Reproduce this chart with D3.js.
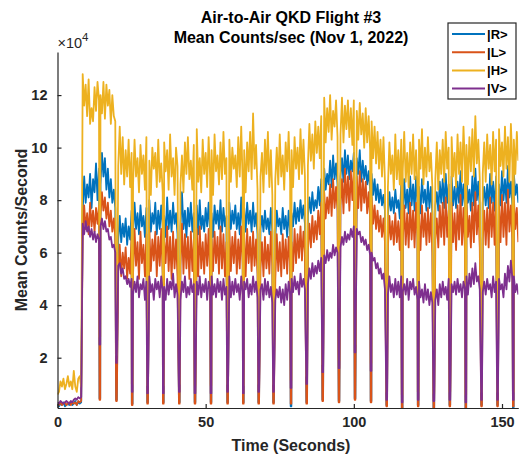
<!DOCTYPE html>
<html>
<head>
<meta charset="utf-8">
<script src="https://cdn.jsdelivr.net/npm/d3@7"></script>
<style>
  body { margin: 0; background: #fff; }
  text { font-family: "Liberation Sans", Arial, Helvetica, sans-serif; }
</style>
</head>
<body>
<div id="visualization"></div>
<script>
// Mean counts per second, in units of 10^4, one sample every 0.5 s from t = 0
var STEP = 0.5;
var countsH = [
  0.6, 0.7, 1.1, 0.9, 1.2, 0.8, 1.0, 1.3, 0.9, 1.1, 0.8, 1.5, 0.9, 0.7, 1.2, 1.3, 0.9,
  12.8, 11.6, 12.4, 11.2, 12.6, 10.9, 11.5, 11.0, 12.3, 11.4, 12.5, 11.8,
  12.0, 11.3, 12.5, 11.1, 12.4, 11.6, 12.2, 10.9, 12.0, 11.2, 11.0,
  10.2, 9.3, 10.8, 9.0, 10.4, 8.6, 9.9, 8.9, 10.3, 8.5,
  9.8, 8.6, 10.3, 8.9, 9.6, 8.3, 10.1, 9.0, 9.7, 8.4,
  10.4, 8.8, 9.5, 8.2, 10.0, 9.2, 9.8, 8.5, 10.3, 8.7,
  9.4, 8.3, 10.2, 9.1, 9.9, 8.4, 10.5, 8.9, 9.6, 8.2,
  10.0, 9.3, 10.6, 8.6, 9.7, 8.3, 10.2, 9.0, 10.4, 8.8,
  9.5, 8.4, 10.1, 9.2, 10.7, 8.7, 9.6, 8.3, 10.3, 9.0,
  9.8, 8.5, 10.4, 8.9, 9.9, 8.2, 10.5, 9.1, 9.7, 8.6,
  10.2, 8.8, 10.6, 9.0, 9.6, 8.4, 10.3, 8.7, 10.0, 9.2,
  9.7, 8.5, 10.4, 8.9, 10.8, 8.6, 9.9, 8.3, 10.2, 9.1,
  10.6, 8.8, 11.3, 9.2, 10.1, 8.4, 10.5, 8.9, 9.8, 8.3,
  10.3, 9.0, 10.6, 8.5, 9.9, 8.2, 10.4, 8.8, 10.0, 8.6,
  10.5, 8.9, 9.7, 8.4, 10.2, 9.1, 10.6, 8.7, 9.9, 8.5,
  10.4, 9.2, 10.0, 8.8, 10.7, 9.0, 10.3, 8.9, 10.6, 9.3,
  10.9, 9.5, 10.5, 9.2, 11.0, 9.8, 10.8, 9.6, 11.2, 10.0,
  11.9, 10.2, 11.5, 10.6, 12.0, 10.3, 11.4, 10.8, 11.8, 10.4,
  11.7, 10.5, 11.9, 10.2, 11.6, 10.7, 11.8, 10.4, 11.5, 10.1,
  11.8, 10.6, 11.4, 10.3, 11.7, 10.5, 11.3, 10.0, 11.5, 10.2,
  11.2, 9.9, 11.0, 9.6, 10.8, 9.4, 10.6, 9.2, 10.3, 8.9,
  10.4, 8.7, 9.9, 8.5, 10.2, 9.0, 9.7, 8.4, 10.5, 8.8,
  9.9, 8.6, 10.3, 9.1, 10.6, 8.7, 9.8, 8.5, 10.2, 9.0,
  10.5, 8.8, 9.9, 8.4, 10.3, 9.2, 10.7, 8.6, 10.0, 8.9,
  10.4, 9.1, 9.8, 8.5, 10.6, 8.8, 10.2, 8.4, 9.9, 9.0,
  10.3, 8.7, 10.6, 9.2, 10.0, 8.6, 10.4, 8.9, 9.8, 8.5,
  10.5, 9.0, 10.2, 8.7, 10.8, 9.3, 10.1, 8.6, 10.4, 9.1,
  10.7, 8.9, 11.2, 9.4, 10.3, 8.8, 10.6, 9.0, 10.2, 8.7,
  10.5, 9.2, 10.1, 8.6, 10.6, 9.1, 10.3, 8.8, 10.7, 9.3,
  10.2, 8.9, 10.8, 9.2, 10.4, 8.7, 10.9, 9.4, 10.3, 9.0,
  10.6, 9.5
];
var countsR = [
  0.2, 0.15, 0.25, 0.2, 0.3, 0.15, 0.2, 0.25, 0.2, 0.3, 0.2, 0.25, 0.35, 0.2, 0.3, 0.25, 0.3,
  7.6, 8.9, 7.9, 8.6, 8.1, 9.0, 7.7, 8.8, 8.3, 9.4, 8.0, 9.2,
  8.6, 9.8, 8.9, 9.6, 8.4, 9.2, 8.1, 8.8, 7.9, 8.4, 7.7,
  7.2, 6.5, 7.4, 6.4, 7.1, 6.6, 7.3, 6.3, 7.0, 6.5,
  7.6, 6.8, 7.9, 6.9, 7.5, 6.7, 7.8, 7.0, 7.4, 6.6,
  7.7, 6.9, 8.0, 6.8, 7.5, 7.1, 7.9, 6.7, 7.6, 6.9,
  7.8, 7.0, 7.4, 6.6, 8.1, 6.9, 7.6, 6.8, 7.9, 7.1,
  7.5, 6.7, 7.8, 7.0, 8.3, 6.9, 7.6, 6.6, 7.7, 7.0,
  7.9, 6.8, 7.5, 7.1, 7.8, 6.7, 8.0, 6.9, 7.4, 6.8,
  7.7, 7.0, 7.9, 6.8, 7.5, 6.6, 7.8, 7.1, 7.6, 6.9,
  8.0, 6.8, 7.7, 7.0, 7.4, 6.7, 7.9, 6.9, 7.6, 7.1,
  7.8, 6.9, 7.5, 6.7, 8.1, 7.0, 7.7, 6.8, 7.9, 7.1,
  7.6, 6.8, 7.9, 7.0, 7.5, 6.7, 7.7, 6.9, 7.4, 6.8,
  7.6, 6.9, 7.3, 6.7, 7.7, 6.8, 7.4, 6.6, 7.6, 7.0,
  7.3, 6.7, 7.7, 6.9, 7.4, 6.6, 7.6, 6.8, 7.5, 7.0,
  7.9, 7.1, 7.7, 7.2, 8.0, 7.3, 7.8, 7.1, 8.2, 7.4,
  8.1, 7.5, 8.3, 7.6, 8.0, 7.7, 8.5, 7.8, 8.8, 8.0,
  9.2, 8.4, 9.0, 8.6, 9.5, 8.5, 9.7, 8.8, 9.4, 8.6,
  9.8, 8.9, 9.6, 8.7, 9.9, 9.0, 9.7, 8.8, 9.5, 9.1,
  9.8, 8.9, 9.6, 9.0, 9.9, 8.7, 9.5, 8.8, 9.3, 8.6,
  9.1, 8.4, 9.0, 8.2, 8.8, 8.0, 8.6, 7.9, 8.4, 7.8,
  8.2, 7.6, 8.0, 7.4, 8.3, 7.6, 8.1, 7.5, 8.4, 7.7,
  8.0, 7.3, 8.6, 7.6, 8.8, 7.7, 8.4, 7.5, 8.9, 7.8,
  8.6, 7.6, 8.9, 7.8, 8.5, 7.5, 8.8, 7.9, 8.4, 7.6,
  8.7, 7.7, 8.5, 7.5, 8.9, 7.8, 8.3, 7.6, 8.7, 7.9,
  8.8, 7.7, 9.0, 7.9, 8.6, 7.6, 8.9, 7.8, 8.5, 7.7,
  8.7, 7.9, 9.1, 7.8, 8.6, 7.7, 8.9, 7.9, 8.4, 7.6,
  8.9, 7.8, 9.2, 8.0, 8.7, 7.7, 8.8, 7.9, 8.5, 7.8,
  8.6, 7.7, 9.0, 7.9, 8.7, 7.6, 8.9, 8.0, 8.6, 7.8,
  9.1, 8.0, 8.8, 7.9, 9.3, 8.1, 8.7, 7.8, 9.0, 8.2,
  8.6, 7.9
];
var countsL = [
  0.25, 0.2, 0.3, 0.2, 0.25, 0.3, 0.2, 0.25, 0.3, 0.2, 0.3, 0.25, 0.3, 0.2, 0.35, 0.3, 0.35,
  6.6, 7.8, 6.9, 7.5, 6.7, 7.9, 7.0, 7.6, 6.8, 7.7, 7.1, 7.8,
  7.4, 8.3, 7.6, 8.1, 7.3, 7.9, 7.0, 7.6, 6.8, 7.3, 6.6,
  6.1, 5.3, 6.3, 5.1, 6.0, 5.4, 6.2, 5.0, 5.8, 5.2,
  6.6, 5.2, 6.9, 5.5, 6.4, 5.0, 6.8, 5.6, 6.3, 5.1,
  6.7, 5.4, 6.9, 5.3, 6.5, 5.7, 6.8, 5.1, 6.6, 5.5,
  6.9, 5.2, 6.4, 5.6, 7.0, 5.3, 6.6, 5.0, 6.8, 5.4,
  6.5, 5.1, 6.9, 5.5, 7.1, 5.2, 6.7, 5.4, 6.6, 5.0,
  6.8, 5.3, 6.5, 5.6, 6.9, 5.1, 7.0, 5.4, 6.4, 5.2,
  6.7, 5.5, 6.9, 5.0, 6.5, 5.3, 6.8, 5.6, 6.6, 5.2,
  7.0, 5.4, 6.7, 5.1, 6.4, 5.5, 6.9, 5.3, 6.6, 5.6,
  6.8, 5.2, 6.5, 5.4, 7.0, 5.5, 6.7, 5.1, 6.9, 5.6,
  6.6, 5.3, 6.8, 5.5, 6.5, 5.2, 6.7, 5.4, 6.4, 5.1,
  6.6, 5.4, 6.3, 5.2, 6.8, 5.5, 6.5, 5.0, 6.7, 5.3,
  6.4, 5.1, 6.7, 5.4, 6.5, 5.2, 6.6, 5.5, 6.4, 5.3,
  6.9, 5.6, 6.7, 5.8, 7.0, 5.7, 6.8, 6.0, 7.2, 6.1,
  7.1, 6.2, 7.4, 6.4, 7.2, 6.5, 7.6, 6.7, 7.9, 7.0,
  8.3, 7.3, 8.1, 7.5, 8.6, 7.4, 8.8, 7.7, 8.5, 7.6,
  9.0, 7.8, 8.8, 7.5, 9.2, 7.9, 8.9, 7.6, 9.1, 8.0,
  9.2, 7.8, 8.9, 7.7, 9.1, 7.6, 8.8, 7.9, 8.7, 7.5,
  8.3, 7.3, 8.1, 7.1, 7.8, 6.9, 7.6, 6.8, 7.4, 6.6,
  7.3, 6.4, 7.1, 6.2, 7.4, 6.5, 7.2, 6.3, 7.5, 6.4,
  7.2, 6.1, 7.6, 6.4, 7.8, 6.3, 7.5, 6.2, 7.9, 6.5,
  7.6, 6.2, 7.9, 6.5, 7.4, 6.1, 7.8, 6.6, 7.5, 6.3,
  7.7, 6.4, 7.5, 6.0, 7.9, 6.5, 7.3, 6.2, 7.8, 6.6,
  7.9, 6.3, 8.1, 6.6, 7.6, 6.2, 7.9, 6.4, 7.5, 6.1,
  7.8, 6.5, 8.2, 6.3, 7.7, 6.1, 8.0, 6.6, 7.4, 6.2,
  7.9, 6.4, 8.3, 6.7, 7.8, 6.2, 8.0, 6.5, 7.6, 6.3,
  7.7, 6.2, 8.1, 6.6, 7.9, 6.3, 8.2, 6.7, 7.8, 6.4,
  8.2, 6.6, 7.9, 6.3, 8.4, 6.8, 7.8, 6.5, 8.1, 6.9,
  7.7, 6.4
];
var countsV = [
  0.3, 0.25, 0.35, 0.3, 0.25, 0.3, 0.35, 0.3, 0.25, 0.35, 0.3, 0.4, 0.45, 0.4, 0.5, 0.45, 0.5,
  7.1, 6.7, 7.2, 6.8, 7.0, 6.6, 6.9, 6.5, 6.8, 6.4, 6.7, 6.5,
  7.0, 7.3, 6.9, 7.2, 6.8, 6.9, 6.5, 6.6, 6.2, 6.3, 6.0,
  5.8, 5.5, 5.6, 5.2, 5.4, 5.0, 5.1, 4.8, 5.0, 4.7,
  5.0, 4.4, 4.9, 4.5, 5.1, 4.3, 4.8, 4.6, 5.0, 4.2,
  4.9, 4.4, 5.1, 4.5, 4.8, 4.2, 5.0, 4.6, 4.9, 4.3,
  5.1, 4.5, 4.7, 4.2, 5.0, 4.4, 4.9, 4.6, 5.2, 4.3,
  4.8, 4.4, 5.0, 4.2, 4.9, 4.5, 5.1, 4.3, 4.7, 4.4,
  5.0, 4.5, 4.8, 4.1, 4.9, 4.4, 5.1, 4.3, 4.8, 4.5,
  5.0, 4.2, 4.9, 4.6, 5.1, 4.4, 4.8, 4.3, 5.0, 4.5,
  4.9, 4.2, 5.0, 4.4, 4.7, 4.5, 5.1, 4.3, 4.9, 4.4,
  5.0, 4.5, 4.8, 4.2, 5.1, 4.4, 4.9, 4.6, 5.0, 4.3,
  4.8, 4.4, 5.1, 4.5, 4.9, 4.3, 5.0, 4.6, 4.8, 4.2,
  5.0, 4.4, 4.9, 4.3, 4.7, 4.1, 4.8, 4.2, 4.6, 4.3,
  4.7, 4.1, 4.6, 4.0, 4.8, 4.2, 4.9, 4.4, 5.0, 4.5,
  5.1, 4.6, 4.9, 4.4, 5.2, 4.7, 5.0, 4.6, 5.3, 4.8,
  5.4, 5.0, 5.6, 5.1, 5.5, 5.2, 5.7, 5.3, 5.8, 5.4,
  5.9, 5.6, 6.1, 5.7, 6.0, 5.8, 6.3, 5.9, 6.2, 6.0,
  6.5, 6.2, 6.6, 6.3, 6.8, 6.4, 6.7, 6.5, 6.9, 6.6,
  7.0, 6.6, 6.9, 6.7, 6.8, 6.4, 6.6, 6.3, 6.5, 6.1,
  6.3, 5.9, 6.0, 5.7, 5.8, 5.4, 5.6, 5.2, 5.4, 5.0,
  5.2, 4.6, 5.0, 4.4, 5.1, 4.5, 4.8, 4.3, 5.0, 4.4,
  4.9, 4.3, 5.1, 4.5, 4.8, 4.4, 5.0, 4.2, 4.9, 4.6,
  5.0, 4.4, 4.7, 4.2, 4.9, 4.3, 4.6, 4.1, 4.8, 4.2,
  4.6, 4.0, 4.5, 4.1, 4.7, 4.2, 4.6, 4.0, 4.8, 4.3,
  4.9, 4.4, 4.7, 4.2, 5.0, 4.3, 4.8, 4.5, 4.9, 4.4,
  5.0, 4.5, 4.8, 4.3, 4.9, 4.6, 5.1, 4.4, 5.2, 4.7,
  5.4, 4.8, 5.6, 4.9, 5.1, 4.6, 5.0, 4.5, 4.9, 4.4,
  5.0, 4.6, 4.8, 4.3, 5.1, 4.5, 4.9, 4.4, 5.0, 4.6,
  4.8, 4.3, 5.2, 4.6, 5.5, 4.9, 5.7, 5.0, 5.1, 4.5,
  4.8, 4.4
];

// Short periodic drop-outs: centre time (s) and lowest value of each trace (10^4)
var DIP_HALF_WIDTH = 0.12;
var dipTime = [14.3, 19.9, 25.2, 30.4, 35.7, 41.1, 46.4, 51.8, 57.4, 62.7, 67.9, 72.9, 78.8, 84.1,
               89.5, 95.0, 100.4, 105.8, 111.1, 116.3, 121.7, 127.0, 132.4, 137.8, 143.1, 148.5, 153.8];
var dipR = [0.45, 0.4, 0.25, 0.3, 0.3, 0.3, 0.3, 0.3, 0.3, 0.3, 0.3, 0.3, 0.15, 0.3,
            0.4, 0.35, 0.45, 0.35, 0.2, 0.02, 0.2, 0.02, 0.2, 0.02, 0.2, 0.2, 0.05];
var dipL = [0.4, 0.35, 0.2, 0.25, 0.25, 0.25, 0.25, 0.25, 0.25, 0.25, 0.25, 0.25, 0.25, 0.25,
            0.35, 0.3, 0.4, 0.3, 0.15, 0.1, 0.15, 0.1, 0.15, 0.1, 0.15, 0.15, 0.15];
var dipH = [2.8, 2.1, 1.0, 0.95, 0.95, 1.0, 0.95, 0.95, 1.0, 0.95, 1.0, 1.0, 1.15, 1.3,
            1.75, 1.9, 2.5, 1.8, 0.7, 0.6, 0.7, 0.65, 0.7, 0.6, 0.7, 0.7, 0.7];
var dipV = [2.5, 1.8, 0.7, 0.65, 0.65, 0.7, 0.65, 0.65, 0.7, 0.65, 0.7, 0.7, 0.85, 1.0,
            1.45, 1.6, 2.2, 1.5, 0.4, 0.3, 0.4, 0.35, 0.4, 0.3, 0.4, 0.4, 0.4];

var seriesNames = ["|R>", "|L>", "|H>", "|V>"];
var seriesColors = ["#0072BD", "#D95319", "#EDB120", "#7E2F8E"];
var xTicks = [0, 50, 100, 150];
var yTicks = [2, 4, 6, 8, 10, 12];

// merge the regular samples with the drop-outs (a short flat bottom), sorted by time
function buildPoints(base, dips) {
   var pts = base.map(function(v, i) { return { t: i * STEP, v: v }; })
                 .filter(function(p) {
                    return !dipTime.some(function(t) { return Math.abs(p.t - t) <= DIP_HALF_WIDTH + 0.05; });
                 });
   dipTime.forEach(function(t, k) {
      pts.push({ t: t - DIP_HALF_WIDTH, v: dips[k] });
      pts.push({ t: t + DIP_HALF_WIDTH, v: dips[k] });
   });
   pts.sort(function(a, b) { return a.t - b.t; });
   return pts;
}

var series = [
   buildPoints(countsR, dipR),
   buildPoints(countsL, dipL),
   buildPoints(countsH, dipH),
   buildPoints(countsV, dipV)
];

var width = 519;
var height = 459;
var margin = { top: 52, right: 0.7, bottom: 51, left: 57.5 };
var axisColor = "#262626";

var svg = d3.select("#visualization")
            .append("svg")
            .attr("width", width)
            .attr("height", height);

var x = d3.scaleLinear()
          .domain([0, 155.5])
          .range([margin.left, width - margin.right]);

var y = d3.scaleLinear()
          .domain([0.085, 13.64])
          .range([height - margin.bottom, margin.top]);

svg.append("defs").append("clipPath")
   .attr("id", "plot-clip")
   .append("rect")
   .attr("x", margin.left)
   .attr("y", margin.top)
   .attr("width", width - margin.right - margin.left)
   .attr("height", height - margin.bottom - margin.top);

var line = d3.line()
             .x(function(d) { return x(d.t); })
             .y(function(d) { return y(d.v); });

// traces, drawn R, L, H, V so that V ends on top
svg.append("g")
   .attr("clip-path", "url(#plot-clip)")
   .selectAll("path")
   .data(series)
   .join("path")
   .attr("fill", "none")
   .attr("stroke", function(d, i) { return seriesColors[i]; })
   .attr("stroke-width", 1.8)
   .attr("stroke-linejoin", "round")
   .attr("d", line);

// x-axis, ticks pointing inward
var xAxis = svg.append("g")
   .attr("transform", "translate(0," + (height - margin.bottom) + ")")
   .call(d3.axisBottom(x).tickValues(xTicks).tickSizeInner(-4).tickSizeOuter(0).tickPadding(9));

// y-axis, ticks pointing inward
var yAxis = svg.append("g")
   .attr("transform", "translate(" + margin.left + ",0)")
   .call(d3.axisLeft(y).tickValues(yTicks).tickSizeInner(-4).tickSizeOuter(0).tickPadding(10));

[xAxis, yAxis].forEach(function(g) {
   g.select(".domain").attr("stroke", axisColor).attr("stroke-width", 1.2);
   g.selectAll(".tick line").attr("stroke", axisColor).attr("stroke-width", 1.2);
   g.selectAll(".tick text")
    .attr("fill", axisColor)
    .style("font-size", "14.5px")
    .style("font-weight", "bold")
    .style("font-family", "'Liberation Sans', Arial, sans-serif");
});

// exponent label above the y-axis
var expo = svg.append("text")
   .attr("x", margin.left)
   .attr("y", 48)
   .attr("fill", axisColor)
   .style("font-size", "14.5px");
expo.append("tspan").text("\u00d710");
expo.append("tspan").attr("dy", -7).style("font-size", "11.5px").text("4");

// title
svg.append("text")
   .attr("x", 291)
   .attr("y", 23)
   .attr("text-anchor", "middle")
   .attr("fill", "#000")
   .style("font-size", "16px")
   .style("font-weight", "bold")
   .text("Air-to-Air QKD Flight #3");

svg.append("text")
   .attr("x", 291)
   .attr("y", 43)
   .attr("text-anchor", "middle")
   .attr("fill", "#000")
   .style("font-size", "16px")
   .style("font-weight", "bold")
   .text("Mean Counts/sec (Nov 1, 2022)");

// axis labels
svg.append("text")
   .attr("x", 291)
   .attr("y", 451)
   .attr("text-anchor", "middle")
   .attr("fill", axisColor)
   .style("font-size", "16px")
   .style("font-weight", "bold")
   .text("Time (Seconds)");

svg.append("text")
   .attr("transform", "translate(27," + ((margin.top + height - margin.bottom) / 2) + ") rotate(-90)")
   .attr("text-anchor", "middle")
   .attr("fill", axisColor)
   .style("font-size", "16px")
   .style("font-weight", "bold")
   .text("Mean Counts/Second");

// legend
var legend = svg.append("g").attr("transform", "translate(448,23)");
legend.append("rect")
   .attr("width", 68)
   .attr("height", 76)
   .attr("fill", "#fff")
   .attr("stroke", axisColor)
   .attr("stroke-width", 1.2);

var rows = legend.selectAll(".row")
   .data(seriesNames)
   .join("g")
   .attr("class", "row")
   .attr("transform", function(d, i) { return "translate(0," + (11 + i * 18.2) + ")"; });

rows.append("line")
   .attr("x1", 4)
   .attr("x2", 37)
   .attr("stroke", function(d, i) { return seriesColors[i]; })
   .attr("stroke-width", 2);

rows.append("text")
   .attr("x", 39)
   .attr("y", 4.5)
   .attr("fill", "#000")
   .style("font-size", "13px")
   .style("font-weight", "bold")
   .text(function(d) { return d; });
</script>
</body>
</html>
